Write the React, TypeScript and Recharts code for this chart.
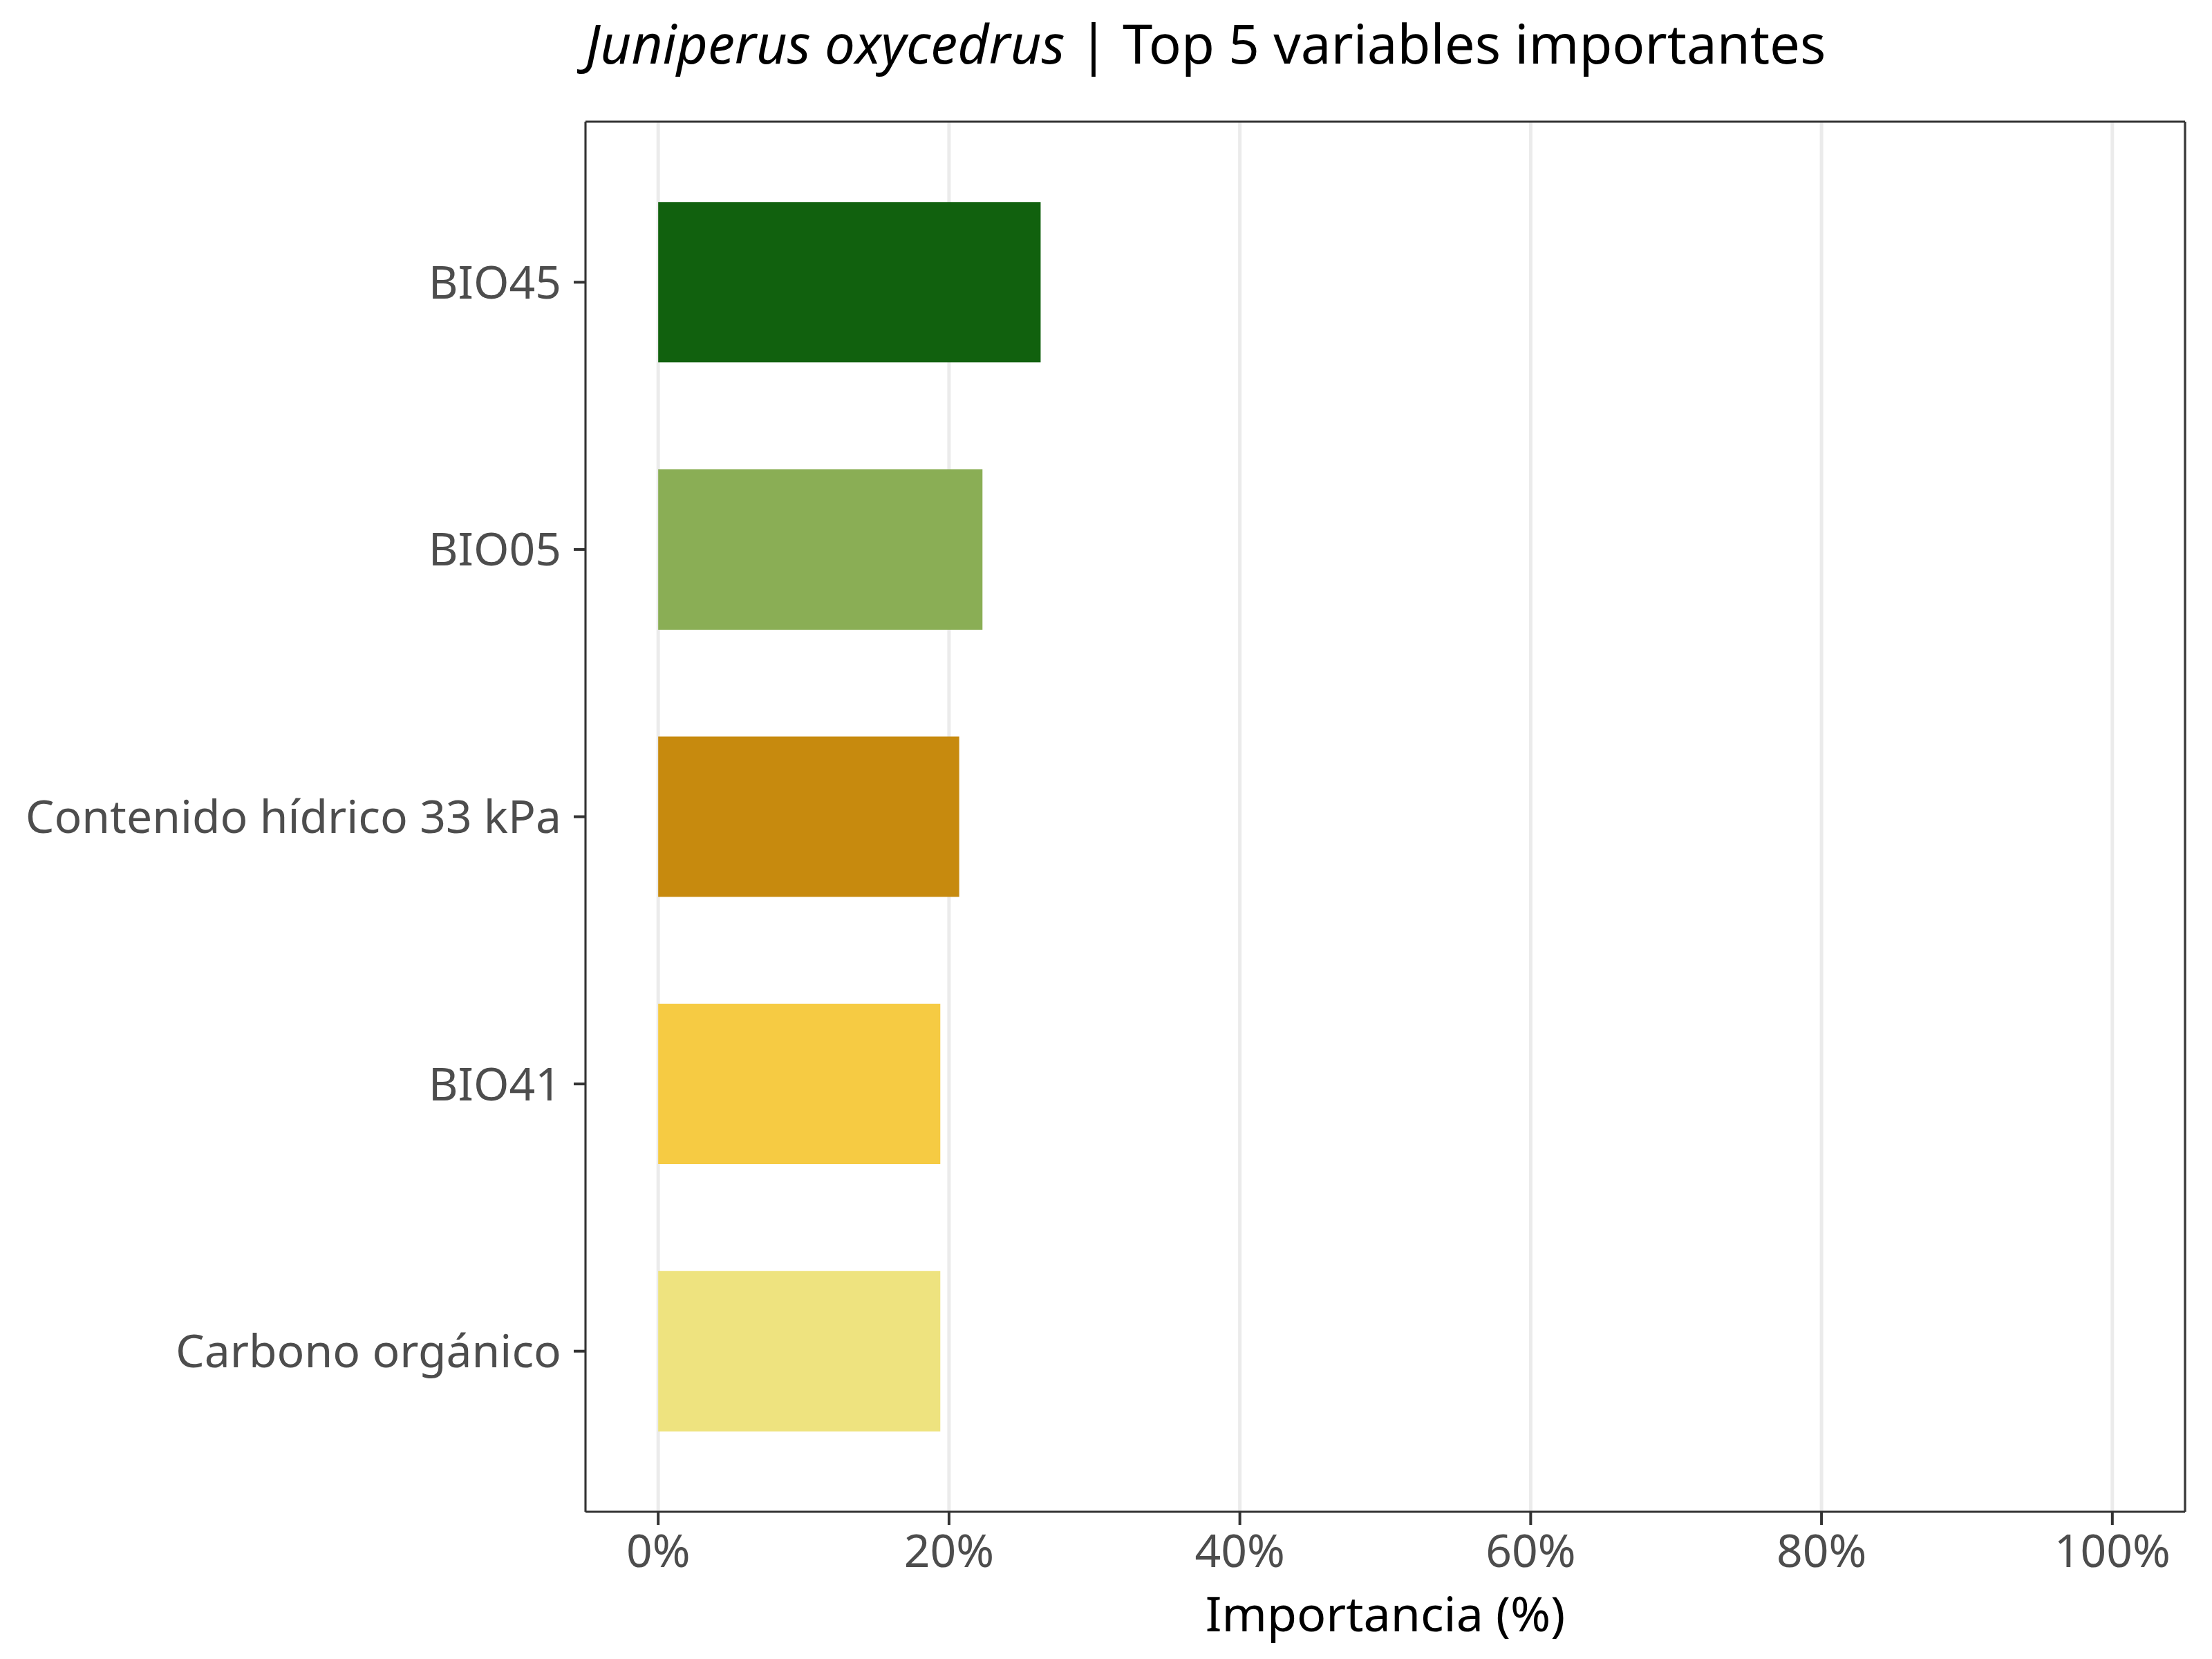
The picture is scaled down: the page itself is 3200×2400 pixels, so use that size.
import {
  BarChart,
  Bar,
  XAxis,
  YAxis,
  CartesianGrid,
  Cell,
  Label,
} from "recharts";

// Variables ordered from top to bottom
const variables = [
  "BIO45",
  "BIO05",
  "Contenido hídrico 33 kPa",
  "BIO41",
  "Carbono orgánico",
];
const importance = [26.3, 22.3, 20.7, 19.4, 19.4];
const xTicks = [0, 20, 40, 60, 80, 100];

const barColors = ["#11610e", "#8aae55", "#c78a0e", "#f6cb43", "#eee37f"];

const data = variables.map((name, i) => ({ name, value: importance[i] }));

const FONT = "'Noto Sans', 'Open Sans', sans-serif";
const border = { stroke: "#333333", strokeWidth: 3 };

const App = () => {
  return (
    <div style={{ position: "absolute", left: 0, top: 0, width: 3200, height: 2400, background: "#fff" }}>
      <svg
        width={3200}
        height={170}
        style={{ position: "absolute", left: 0, top: 0, pointerEvents: "none" }}
      >
        <text x={847} y={92} fontFamily={FONT} fontSize={78} fill="#000">
          <tspan fontStyle="italic">Juniperus oxycedrus</tspan>
          <tspan> | Top 5 variables importantes</tspan>
        </text>
      </svg>
      <BarChart
        width={3200}
        height={2400}
        data={data}
        layout="vertical"
        barCategoryGap="20%"
        margin={{ top: 175, right: 38, bottom: 0, left: 0 }}
      >
        <CartesianGrid horizontal={false} stroke="#ebebeb" strokeWidth={5} />
        <XAxis
          type="number"
          domain={[-5, 105]}
          allowDataOverflow
          ticks={xTicks}
          tickFormatter={(v: number) => `${v}%`}
          axisLine={border}
          tickLine={{ stroke: "#333333", strokeWidth: 4 }}
          tickSize={19}
          tickMargin={14}
          height={213}
          tick={{ fontSize: 66, fill: "#4d4d4d", fontFamily: FONT }}
        >
          <Label
            value="Importancia (%)"
            position="insideBottom"
            offset={40}
            style={{ fontSize: 70, fill: "#000", fontFamily: FONT }}
          />
        </XAxis>
        <XAxis
          xAxisId="top"
          orientation="top"
          type="number"
          domain={[-5, 105]}
          allowDataOverflow
          height={1}
          ticks={xTicks}
          tick={false}
          tickLine={false}
          axisLine={border}
        />
        <YAxis
          type="category"
          dataKey="name"
          width={847}
          padding={{ top: 39, bottom: 39 }}
          axisLine={border}
          tickLine={{ stroke: "#333333", strokeWidth: 4 }}
          tickSize={17}
          tickMargin={18}
          tick={{ fontSize: 66, fill: "#4d4d4d", fontFamily: FONT }}
        />
        <YAxis
          yAxisId="right"
          orientation="right"
          type="category"
          dataKey="name"
          width={1}
          tick={false}
          tickLine={false}
          axisLine={border}
        />
        <Bar dataKey="value" isAnimationActive={false}>
          {data.map((d, i) => (
            <Cell key={d.name} fill={barColors[i]} />
          ))}
        </Bar>
      </BarChart>
    </div>
  );
};

export default App;
